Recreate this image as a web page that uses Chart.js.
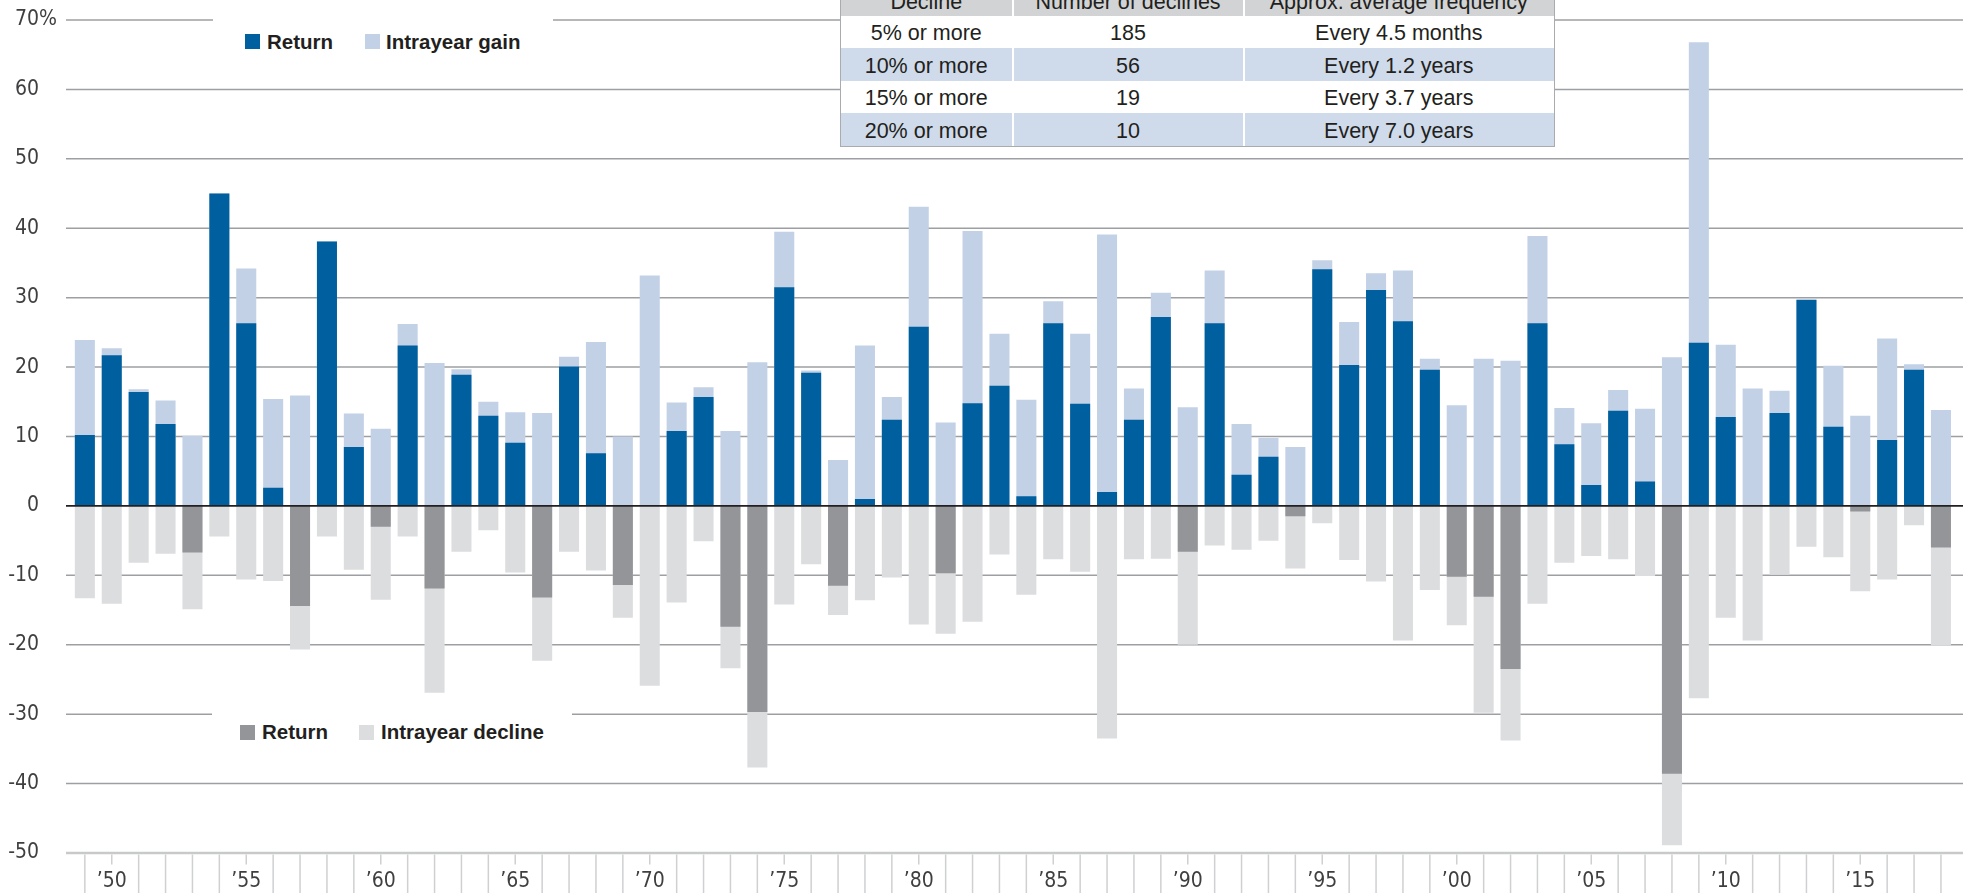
<!DOCTYPE html>
<html>
<head>
<meta charset="utf-8">
<script src="https://cdn.jsdelivr.net/npm/chart.js@4.4.0/dist/chart.umd.min.js"></script>
<style>
html,body{margin:0;padding:0;background:#fff;overflow:hidden}
#wrap{position:relative;width:1969px;height:893px;overflow:hidden;background:#fff}
#c{position:absolute;left:0;top:0}
.box{position:absolute;background:#fff}
.sw{position:absolute;width:15px;height:15px}
.lt{position:absolute;white-space:nowrap;line-height:24px;font-family:'Liberation Sans',Arial,sans-serif;font-weight:bold;font-size:20.5px;color:#231f20}
#tbl{position:absolute;left:840px;top:-16.5px;width:715px;border:1.5px solid #a9abae;box-sizing:border-box;background:#fff;font-family:'Liberation Sans',Arial,sans-serif;font-size:21.5px;color:#231f20}
.row{display:flex;height:32.5px}
.row.h{height:31px;background:#d1d3d4}
.row.b{background:#cfdbea}
.cell{display:flex;align-items:center;justify-content:center;box-sizing:border-box;white-space:nowrap;padding-top:4px}
.c1{width:170.5px}
.c2{width:231px;border-left:2px solid #fff}
.c3{width:310.5px;border-left:2px solid #fff}
.row.w .c2,.row.w .c3{border-left-color:transparent}
</style>
</head>
<body>
<div id="wrap">
  <canvas id="c" width="1969" height="893"></canvas>
  <div class="box" style="left:213px;top:12px;width:340px;height:44px"></div>
  <div class="sw" style="left:245px;top:34px;background:#005f9e"></div>
  <div class="lt" style="left:267px;top:30px">Return</div>
  <div class="sw" style="left:364.5px;top:34px;background:#c2d1e6"></div>
  <div class="lt" style="left:386px;top:30px">Intrayear gain</div>

  <div class="box" style="left:212px;top:706px;width:360px;height:50px"></div>
  <div class="sw" style="left:240px;top:724.5px;background:#939598"></div>
  <div class="lt" style="left:262px;top:720px">Return</div>
  <div class="sw" style="left:359px;top:724.5px;background:#dcdddf"></div>
  <div class="lt" style="left:381px;top:720px">Intrayear decline</div>

  <div id="tbl"></div>
</div>
<script>
// ---- data ----
const years = [1949,1950,1951,1952,1953,1954,1955,1956,1957,1958,
               1959,1960,1961,1962,1963,1964,1965,1966,1967,1968,
               1969,1970,1971,1972,1973,1974,1975,1976,1977,1978,
               1979,1980,1981,1982,1983,1984,1985,1986,1987,1988,
               1989,1990,1991,1992,1993,1994,1995,1996,1997,1998,
               1999,2000,2001,2002,2003,2004,2005,2006,2007,2008,
               2009,2010,2011,2012,2013,2014,2015,2016,2017,2018];
const returns = [10.2,21.7,16.4,11.8,-6.7,45.0,26.3,2.6,-14.4,38.1,
                 8.5,-3.0,23.1,-11.9,18.9,13.0,9.1,-13.2,20.1,7.6,
                 -11.4,0.1,10.8,15.7,-17.4,-29.7,31.5,19.2,-11.5,1.0,
                 12.4,25.8,-9.7,14.8,17.3,1.4,26.3,14.7,2.0,12.4,
                 27.2,-6.6,26.3,4.5,7.1,-1.5,34.1,20.3,31.1,26.6,
                 19.6,-10.2,-13.1,-23.5,26.3,8.9,3.0,13.7,3.5,-38.6,
                 23.5,12.8,0.0,13.4,29.7,11.4,-0.8,9.5,19.6,-6.0];
const gains = [23.9,22.7,16.8,15.2,10.1,45.0,34.2,15.4,15.9,38.1,
               13.3,11.1,26.2,20.6,19.7,15.0,13.5,13.4,21.5,23.6,
               10.0,33.2,14.9,17.1,10.8,20.7,39.5,19.5,6.6,23.1,
               15.7,43.1,12.0,39.6,24.8,15.3,29.5,24.8,39.1,16.9,
               30.7,14.2,33.9,11.8,9.8,8.5,35.4,26.5,33.5,33.9,
               21.2,14.5,21.2,20.9,38.9,14.1,11.9,16.7,14.0,21.4,
               66.8,23.2,16.9,16.6,29.7,20.2,13.0,24.1,20.4,13.8];
const declines = [-13.3,-14.1,-8.2,-6.9,-14.9,-4.4,-10.6,-10.8,-20.7,-4.4,
                  -9.2,-13.5,-4.4,-26.9,-6.6,-3.5,-9.6,-22.3,-6.6,-9.3,
                  -16.1,-25.9,-13.9,-5.1,-23.4,-37.7,-14.2,-8.4,-15.7,-13.6,
                  -10.3,-17.1,-18.4,-16.7,-7.0,-12.8,-7.7,-9.5,-33.5,-7.7,
                  -7.6,-20.0,-5.7,-6.3,-5.0,-9.0,-2.5,-7.8,-10.9,-19.4,
                  -12.1,-17.2,-29.8,-33.8,-14.1,-8.2,-7.2,-7.7,-10.1,-48.9,
                  -27.7,-16.1,-19.4,-9.9,-5.9,-7.4,-12.3,-10.6,-2.8,-20.1];
const tickLabels = years.map(y => y % 5 === 0 ? "\u2019" + String(y).slice(2) : "");

const tableHeader = ["Decline", "Number of declines", "Approx. average frequency"];
const declineLevels = ["5% or more", "10% or more", "15% or more", "20% or more"];
const declineCounts = ["185", "56", "19", "10"];
const declineFreq = ["Every 4.5 months", "Every 1.2 years", "Every 3.7 years", "Every 7.0 years"];

// ---- table ----
(function(){
  const t = document.getElementById('tbl');
  let html = '<div class="row h"><div class="cell c1">'+tableHeader[0]+'</div><div class="cell c2">'+tableHeader[1]+'</div><div class="cell c3">'+tableHeader[2]+'</div></div>';
  for (let i = 0; i < declineLevels.length; i++) {
    html += '<div class="row '+(i%2? 'b':'w')+'"><div class="cell c1">'+declineLevels[i]+'</div><div class="cell c2">'+declineCounts[i]+'</div><div class="cell c3">'+declineFreq[i]+'</div></div>';
  }
  t.innerHTML = html;
})();

// ---- chart ----
const BLUE_D = '#005f9e', BLUE_L = '#c2d1e6', GRAY_D = '#939598', GRAY_L = '#dcdddf';
const TICK_FONT = {family: "'Liberation Sans Narrow','Arial Narrow','DejaVu Sans Condensed',sans-serif", size: 21};
const TICK_COLOR = '#3f3f41';
const GRID_L = 66, GRID_R = 1963;

const gridPlugin = {
  id: 'customGrid',
  beforeDatasetsDraw(chart) {
    const ctx = chart.ctx, ys = chart.scales.y;
    ctx.save();
    ys.ticks.forEach(t => {
      if (t.value === 0) return;
      const y = ys.getPixelForValue(t.value);
      ctx.beginPath();
      if (t.value === ys.min) { ctx.strokeStyle = '#c8c9ca'; ctx.lineWidth = 2.5; }
      else { ctx.strokeStyle = '#9d9fa2'; ctx.lineWidth = 1.5; }
      ctx.moveTo(GRID_L, y); ctx.lineTo(GRID_R, y); ctx.stroke();
    });
    ctx.restore();
  },
  afterDatasetsDraw(chart) {
    const ctx = chart.ctx, ys = chart.scales.y, xs = chart.scales.x;
    ctx.save();
    const y0 = ys.getPixelForValue(0);
    ctx.beginPath(); ctx.strokeStyle = '#231f20'; ctx.lineWidth = 1.6;
    ctx.moveTo(GRID_L, y0); ctx.lineTo(GRID_R, y0); ctx.stroke();
    // bottom tick marks
    const yb = ys.getPixelForValue(ys.min) + 1.5;
    ctx.strokeStyle = '#cfd0d2'; ctx.lineWidth = 1.5;
    years.forEach((yr, i) => {
      const x = xs.getPixelForValue(i);
      ctx.beginPath();
      ctx.moveTo(x, yb);
      ctx.lineTo(x, yr % 5 === 0 ? yb + 10 : chart.height);
      ctx.stroke();
    });
    ctx.restore();
  },
  afterDraw(chart) {
    const ctx = chart.ctx, ys = chart.scales.y;
    ctx.save();
    ctx.font = TICK_FONT.size + 'px ' + TICK_FONT.family;
    ctx.fillStyle = TICK_COLOR; ctx.textAlign = 'left'; ctx.textBaseline = 'middle';
    ctx.fillText('%', ys.right - ys.options.ticks.padding, ys.getPixelForValue(ys.max));
    ctx.restore();
  }
};

new Chart(document.getElementById('c'), {
  type: 'bar',
  data: {
    labels: years.map(String),
    datasets: [
      {label: 'Return', data: returns, backgroundColor: returns.map(v => v < 0 ? GRAY_D : BLUE_D),
       grouped: false, categoryPercentage: 1, barPercentage: 0.745, borderWidth: 0},
      {label: 'Intrayear gain', data: gains, backgroundColor: BLUE_L,
       grouped: false, categoryPercentage: 1, barPercentage: 0.745, borderWidth: 0},
      {label: 'Intrayear decline', data: declines, backgroundColor: GRAY_L,
       grouped: false, categoryPercentage: 1, barPercentage: 0.745, borderWidth: 0}
    ]
  },
  options: {
    responsive: false, animation: false, devicePixelRatio: 1,
    layout: {padding: {left: 0, right: 14.6, top: 20, bottom: 0}},
    plugins: {legend: {display: false}, tooltip: {enabled: false}},
    scales: {
      x: {
        offset: true,
        grid: {display: false, drawTicks: false}, border: {display: false},
        ticks: {autoSkip: false, maxRotation: 0, minRotation: 0, padding: 16,
                font: TICK_FONT, color: TICK_COLOR,
                callback: (v, i) => tickLabels[i]},
        afterFit: s => { s.height = 40; s.paddingLeft = 0; s.paddingRight = 0; s.paddingTop = 0; s.paddingBottom = 0; }
      },
      y: {
        min: -50, max: 70,
        grid: {display: false, drawTicks: false}, border: {display: false},
        ticks: {stepSize: 10, padding: 32.4, font: TICK_FONT, color: TICK_COLOR},
        afterFit: s => { s.width = 71.4; s.paddingTop = 0; s.paddingBottom = 0; s.paddingLeft = 0; s.paddingRight = 0; }
      }
    }
  },
  plugins: [gridPlugin]
});
</script>
</body>
</html>
